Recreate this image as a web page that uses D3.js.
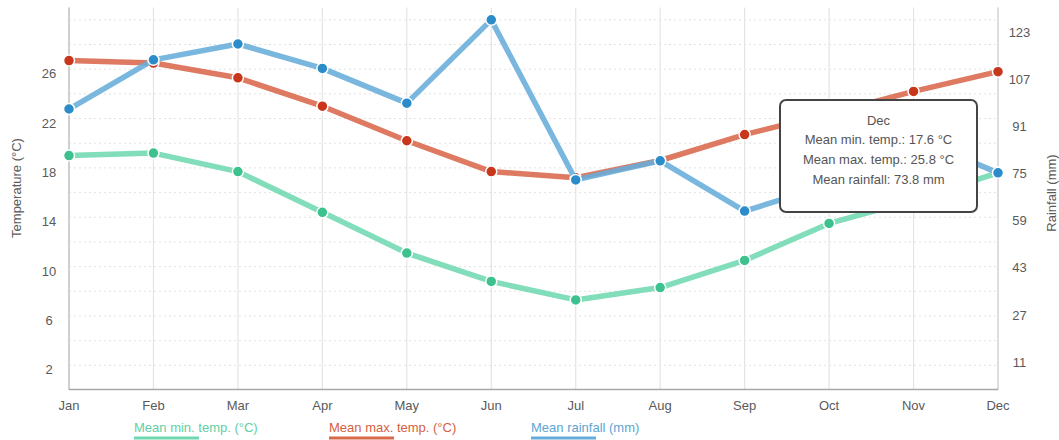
<!DOCTYPE html>
<html>
<head>
<meta charset="utf-8">
<script src="https://cdn.jsdelivr.net/npm/d3@7/dist/d3.min.js"></script>
<style>
  html, body { margin: 0; padding: 0; background: #fff; }
  svg { display: block; font-family: "Liberation Sans", Arial, sans-serif; }
</style>
</head>
<body>
<svg id="chart" width="1059" height="440"></svg>
<script>
// Monthly climate data
const months = ["Jan","Feb","Mar","Apr","May","Jun","Jul","Aug","Sep","Oct","Nov","Dec"];
const minTemp = [19.0, 19.2, 17.7, 14.4, 11.1, 8.8, 7.3, 8.3, 10.5, 13.5, 15.4, 17.6];
const maxTemp = [26.7, 26.5, 25.3, 23.0, 20.2, 17.7, 17.2, 18.6, 20.7, 22.4, 24.2, 25.8];
const rainfall = [95.5, 112.2, 117.6, 109.3, 97.5, 125.8, 71.4, 77.9, 60.8, 69.8, 86.0, 73.8];

const tempTicks = [2, 6, 10, 14, 18, 22, 26];
const rainTicks = [11, 27, 43, 59, 75, 91, 107, 123];
const tempGrid = d3.range(2, 31, 2);

const seriesNames = ["Mean min. temp. (°C)", "Mean max. temp. (°C)", "Mean rainfall (mm)"];
const highlightIndex = 11;

(function () {
  const svg = d3.select("#chart");
  const plotLeft = 69, plotRight = 998, plotTop = 7.5, plotBottom = 390;

  const x = d3.scalePoint().domain(months).range([plotLeft, plotRight]);
  const yT = d3.scaleLinear().domain([0, 31]).range([plotBottom, plotTop]);
  const yR = d3.scaleLinear().domain([0, 130]).range([plotBottom, plotTop]);

  // horizontal dotted grid
  svg.append("g").selectAll("line").data(tempGrid).join("line")
    .attr("x1", plotLeft).attr("x2", plotRight)
    .attr("y1", d => yT(d)).attr("y2", d => yT(d))
    .attr("stroke", "#e2e2e2").attr("stroke-width", 1)
    .attr("stroke-dasharray", "2,3");

  // vertical month grid
  svg.append("g").selectAll("line").data(months).join("line")
    .attr("x1", d => x(d)).attr("x2", d => x(d))
    .attr("y1", plotTop).attr("y2", plotBottom)
    .attr("stroke", "#e4e4e4").attr("stroke-width", 1.2);

  // axis lines
  svg.append("line").attr("x1", plotLeft).attr("x2", plotLeft).attr("y1", plotTop).attr("y2", plotBottom)
    .attr("stroke", "#c4c4c4").attr("stroke-width", 1.5);
  svg.append("line").attr("x1", plotRight).attr("x2", plotRight).attr("y1", plotTop).attr("y2", plotBottom)
    .attr("stroke", "#d2d2d2").attr("stroke-width", 1.2);
  svg.append("line").attr("x1", plotLeft).attr("x2", plotRight).attr("y1", plotBottom - 0.5).attr("y2", plotBottom - 0.5)
    .attr("stroke", "#a8a8a8").attr("stroke-width", 1.5);

  // month labels
  svg.append("g").selectAll("text").data(months).join("text")
    .attr("x", d => x(d)).attr("y", 410)
    .attr("text-anchor", "middle").attr("font-size", 13).attr("fill", "#5a5a5a")
    .text(d => d);

  // left temperature ticks
  svg.append("g").selectAll("text").data(tempTicks).join("text")
    .attr("x", 49).attr("y", d => yT(d) + 9)
    .attr("text-anchor", "middle").attr("font-size", 13).attr("fill", "#5a5a5a")
    .text(d => d);

  // right rainfall ticks
  svg.append("g").selectAll("text").data(rainTicks).join("text")
    .attr("x", 1019.5).attr("y", d => yR(d) + 9)
    .attr("text-anchor", "middle").attr("font-size", 13).attr("fill", "#5a5a5a")
    .text(d => d);

  // axis titles
  svg.append("text")
    .attr("transform", "translate(21,188) rotate(-90)")
    .attr("text-anchor", "middle").attr("font-size", 13).attr("fill", "#5a5a5a")
    .text("Temperature (°C)");
  svg.append("text")
    .attr("transform", "translate(1056,193) rotate(-90)")
    .attr("text-anchor", "middle").attr("font-size", 13).attr("fill", "#5a5a5a")
    .text("Rainfall (mm)");

  // series
  const series = [
    { values: minTemp, y: yT, line: "#6fd8b1", dot: "#3dc18f" },
    { values: maxTemp, y: yT, line: "#d9684b", dot: "#c8361c" },
    { values: rainfall, y: yR, line: "#66addb", dot: "#2b8cc9" }
  ];

  series.forEach(s => {
    const g = svg.append("g");
    const line = d3.line().x((d, i) => x(months[i])).y(d => s.y(d));
    g.append("path").datum(s.values)
      .attr("d", line)
      .attr("fill", "none").attr("stroke", s.line)
      .attr("stroke-width", 5.5).attr("stroke-linejoin", "round").attr("stroke-linecap", "round")
      .attr("stroke-opacity", 0.88);
    g.selectAll("circle").data(s.values).join("circle")
      .attr("cx", (d, i) => x(months[i])).attr("cy", d => s.y(d))
      .attr("r", 5.5).attr("fill", s.dot)
      .attr("stroke", "#fff").attr("stroke-width", 1.5);
  });

  // legend
  const legendX = [134, 329, 531];
  const legendText = ["#5fcfa5", "#d45f40", "#5ea4d3"];
  seriesNames.forEach((name, i) => {
    svg.append("text").attr("x", legendX[i]).attr("y", 432)
      .attr("font-size", 13).attr("fill", legendText[i]).text(name);
    svg.append("rect").attr("x", legendX[i]).attr("y", 436.5)
      .attr("width", 65).attr("height", 3).attr("fill", series[i].line);
  });

  // tooltip for the highlighted month
  const tip = svg.append("g");
  tip.append("rect").attr("x", 780).attr("y", 100).attr("width", 197).attr("height", 112)
    .attr("rx", 6).attr("fill", "#fff").attr("stroke", "#444").attr("stroke-width", 2);
  const tipLines = [
    months[highlightIndex],
    "Mean min. temp.: " + minTemp[highlightIndex].toFixed(1) + " °C",
    "Mean max. temp.: " + maxTemp[highlightIndex].toFixed(1) + " °C",
    "Mean rainfall: " + rainfall[highlightIndex].toFixed(1) + " mm"
  ];
  tip.selectAll("text").data(tipLines).join("text")
    .attr("x", 878.5).attr("y", (d, i) => 124.5 + i * 19.7)
    .attr("text-anchor", "middle").attr("font-size", 13).attr("fill", "#555")
    .text(d => d);
})();
</script>
</body>
</html>
